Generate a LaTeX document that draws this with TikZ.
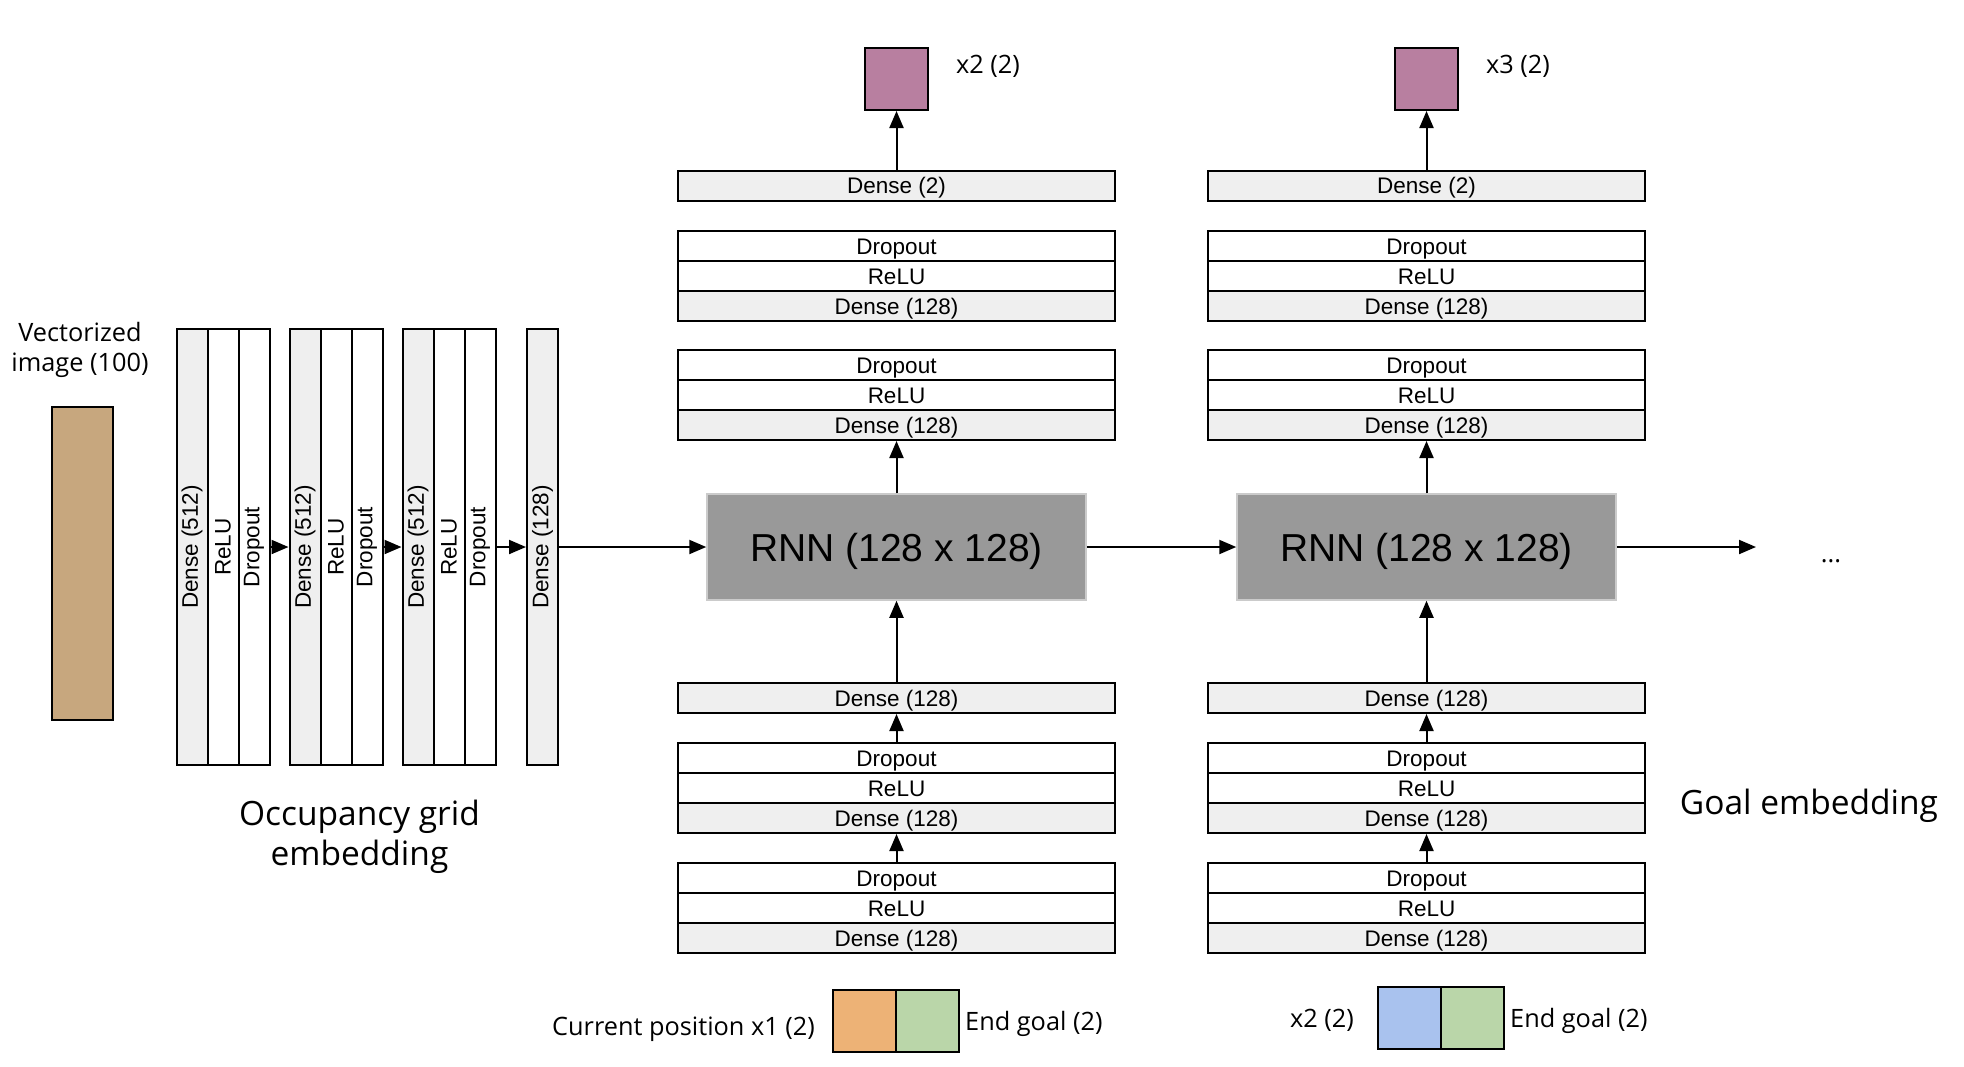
\documentclass[tikz,border=0pt]{standalone}
\usepackage{graphicx}
\usepackage{fontspec}
\setmainfont{Open Sans}
\newfontfamily\arialfont{Liberation Sans}
\usetikzlibrary{arrows.meta}

\definecolor{densegray}{HTML}{EFEFEF}
\definecolor{rnngray}{HTML}{999999}
\definecolor{rnnborder}{HTML}{CBCBCB}
\definecolor{imgtan}{HTML}{C7A77E}
\definecolor{outpurple}{HTML}{B87FA0}
\definecolor{posorange}{HTML}{EDB276}
\definecolor{goalgreen}{HTML}{BAD6A9}
\definecolor{posblue}{HTML}{A9C2EE}

\begin{document}
\begin{tikzpicture}[x=1pt, y=-1pt]
	\tikzstyle{layer} = [ draw, rectangle, line width=2pt, inner sep=0pt, font={\arialfont\fontsize{22.5}{26}\selectfont} ];
	\tikzstyle{hlayer} = [ layer, text height=18pt, text depth=1.4pt, minimum width=437pt, minimum height=30pt ];
	\tikzstyle{vlayer} = [ layer, minimum width=31pt, minimum height=436pt ];
	\tikzstyle{dense} = [ fill=densegray ];
	\tikzstyle{rnn} = [ draw=rnnborder, fill=rnngray, line width=1.5pt, minimum width=379pt, minimum height=106pt, text height=30pt, text depth=1pt, font={\arialfont\fontsize{39}{42}\selectfont} ];
	\tikzstyle{vec} = [ draw, line width=2pt, inner sep=0pt, minimum width=63pt, minimum height=62pt ];
	\tikzstyle{info} = [ inner sep=0pt, font={\fontsize{25.3}{30}\selectfont} ];
	\tikzstyle{title} = [ inner sep=0pt, align=center, font={\fontsize{33.5}{40}\selectfont} ];
	\tikzstyle{point} = [ -{Triangle[length=17pt, width=14pt]}, line width=2pt ];

	\useasboundingbox (0,0) rectangle (1964,1066);

	% occupancy grid embedding
	\node[draw, line width=2pt, fill=imgtan, minimum width=61pt, minimum height=313pt, inner sep=0pt] (img) at (82.5,563.5) {};
	\node[info, align=center] (imglbl) at (80,350) {Vectorized\\image (100)};

	\foreach \g in {0,1,2} {
		\foreach \lbl/\sty [count=\ci] in {{Dense (512)}/dense, ReLU/layer, Dropout/layer} {
			\node[vlayer, \sty] (g\g\ci) at ({192 + 113*\g + 31*(\ci-1)}, 547) {\rotatebox{90}{\lbl}};
		}
	}
	\node[vlayer, dense] (emb) at (542.5,547) {\rotatebox{90}{Dense (128)}};

	\draw[point] (g03) -- (g11);
	\draw[point] (g13) -- (g21);
	\draw[point] (g23) -- (emb);

	\node[title] (gridlbl) at (359.5,837) {Occupancy grid\\embedding};

	% recurrent steps
	\foreach \col in {0,1} {
		\pgfmathsetmacro\cx{896.5 + 530*\col}
		\node[rnn] (rnn\col) at (\cx,547) {RNN (128 x 128)};
		\node[hlayer, dense] (out\col) at (\cx,185.5) {Dense (2)};
		\foreach \s/\ty in {a/231, b/350, c/743, d/863} {
			\node[hlayer] (\s\col1) at (\cx,{\ty+15}) {Dropout};
			\node[hlayer] (\s\col2) at (\cx,{\ty+45}) {ReLU};
			\node[hlayer, dense] (\s\col3) at (\cx,{\ty+75}) {Dense (128)};
		}
		\node[hlayer, dense] (in\col) at (\cx,698) {Dense (128)};
		\node[vec, fill=outpurple] (pred\col) at (\cx,79) {};

		\draw[point] (d\col1) -- (c\col3);
		\draw[point] (c\col1) -- (in\col);
		\draw[point] (in\col) -- (rnn\col);
		\draw[point] (rnn\col) -- (b\col3);
		\draw[point] (out\col) -- (pred\col);
	}

	\draw[point] (emb) -- (rnn0);
	\draw[point] (rnn0) -- (rnn1);
	\coordinate (next) at (1756,547);
	\draw[point] (rnn1) -- (next);
	\node[info, anchor=base] (dots) at (1831,562) {...};

	\node[info] (pred0lbl) at (988,66) {x2 (2)};
	\node[info] (pred1lbl) at (1518,66) {x3 (2)};

	% inputs
	\node[vec, fill=posorange] (pos0) at (864.5,1021) {};
	\node[vec, fill=goalgreen] (goal0) at (927.5,1021) {};
	\node[vec, fill=posblue] (pos1) at (1409.5,1017.5) {};
	\node[vec, fill=goalgreen] (goal1) at (1472,1017.5) {};

	\node[info, anchor=east] (pos0lbl) at (815,1029) {Current position x1 (2)};
	\node[info, anchor=west] (goal0lbl) at (965,1023.5) {End goal (2)};
	\node[info] (pos1lbl) at (1322,1020.5) {x2 (2)};
	\node[info, anchor=west] (goal1lbl) at (1510,1020.5) {End goal (2)};

	\node[title] (goallbl) at (1809,805.5) {Goal embedding};
\end{tikzpicture}
\end{document}
